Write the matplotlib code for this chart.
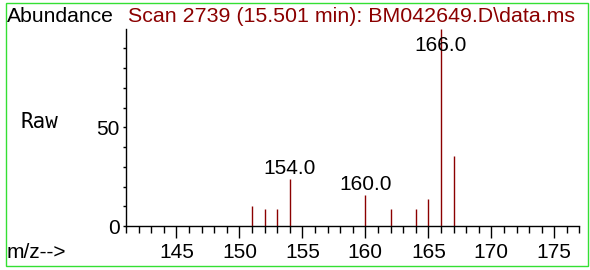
import matplotlib

matplotlib.use("Agg")
import matplotlib.pyplot as plt
from matplotlib.patches import Rectangle
from matplotlib.ticker import FixedLocator, MultipleLocator

# peak list
mz = [151, 152, 153, 154, 160, 162, 164, 165, 166, 167]
abundance = [10.0, 8.5, 8.5, 23.6, 15.6, 8.5, 8.5, 13.6, 100.0, 35.3]
labeled_mz = [154, 160, 166]
y_major_ticks = [0, 50]
y_minor_ticks = [10, 20, 30, 40, 60, 70, 80, 90]

title = "Scan 2739 (15.501 min): BM042649.D\\data.ms"
ylabel_text = "Abundance"
xlabel_text = "m/z-->"
mode_text = "Raw"

W, H = 590, 270
DARK_RED = "#8b0000"
FONT = "Liberation Sans"
FS = 15


def px(x, y):
    # pixel coords (top-left origin) -> figure fraction
    return x / W, 1 - y / H


fig = plt.figure(figsize=(W / 100, H / 100), dpi=100)
ax = fig.add_axes([126 / W, 44 / H, (579.5 - 126) / W, (226 - 28.5) / H])

ax.vlines(mz, 0, abundance, color=DARK_RED, linewidth=1.0, clip_on=False)

for m, h in zip(mz, abundance):
    if m in labeled_mz:
        ax.annotate(
            f"{m:.1f}",
            xy=(m, min(h, 86.0)),
            xytext=(0, 4),
            textcoords="offset points",
            ha="center",
            va="baseline",
            fontsize=FS,
            family=FONT,
            color="black",
        )

ax.set_xlim(141, 177)
ax.set_ylim(0, 100)

for side in ("top", "right"):
    ax.spines[side].set_visible(False)
for side in ("left", "bottom"):
    ax.spines[side].set_linewidth(1.0)
    ax.spines[side].set_color("black")

ax.xaxis.set_major_locator(MultipleLocator(5))
ax.xaxis.set_minor_locator(MultipleLocator(1))
ax.yaxis.set_major_locator(FixedLocator(y_major_ticks))
ax.yaxis.set_minor_locator(FixedLocator(y_minor_ticks))

ax.tick_params(axis="x", which="major", direction="out", length=8.6, width=1.0, pad=3.5, labelsize=FS)
ax.tick_params(axis="x", which="minor", direction="out", length=5, width=1.0)
ax.tick_params(axis="y", which="major", direction="out", length=2.5, width=1.0, pad=2, labelsize=FS)
ax.tick_params(axis="y", which="minor", direction="out", length=2.5, width=1.0)
for lab in ax.get_xticklabels() + ax.get_yticklabels():
    lab.set_family(FONT)

fig.text(*px(6.5, 21.7), ylabel_text, ha="left", va="baseline", fontsize=15.2, family=FONT)
fig.text(*px(128, 21.7), title, ha="left", va="baseline", fontsize=15.4, family=FONT, color=DARK_RED)
fig.text(*px(20, 128.5), mode_text, ha="left", va="baseline", fontsize=15, family="DejaVu Sans Mono")
fig.text(*px(6.5, 258), xlabel_text, ha="left", va="baseline", fontsize=FS, family=FONT)

fig.patches.append(
    Rectangle(
        px(6, 266),
        (587.5 - 6) / W,
        (266 - 2.5) / H,
        transform=fig.transFigure,
        fill=False,
        edgecolor="#33e033",
        linewidth=1.0,
    )
)

fig.savefig("out.png", dpi=100)
